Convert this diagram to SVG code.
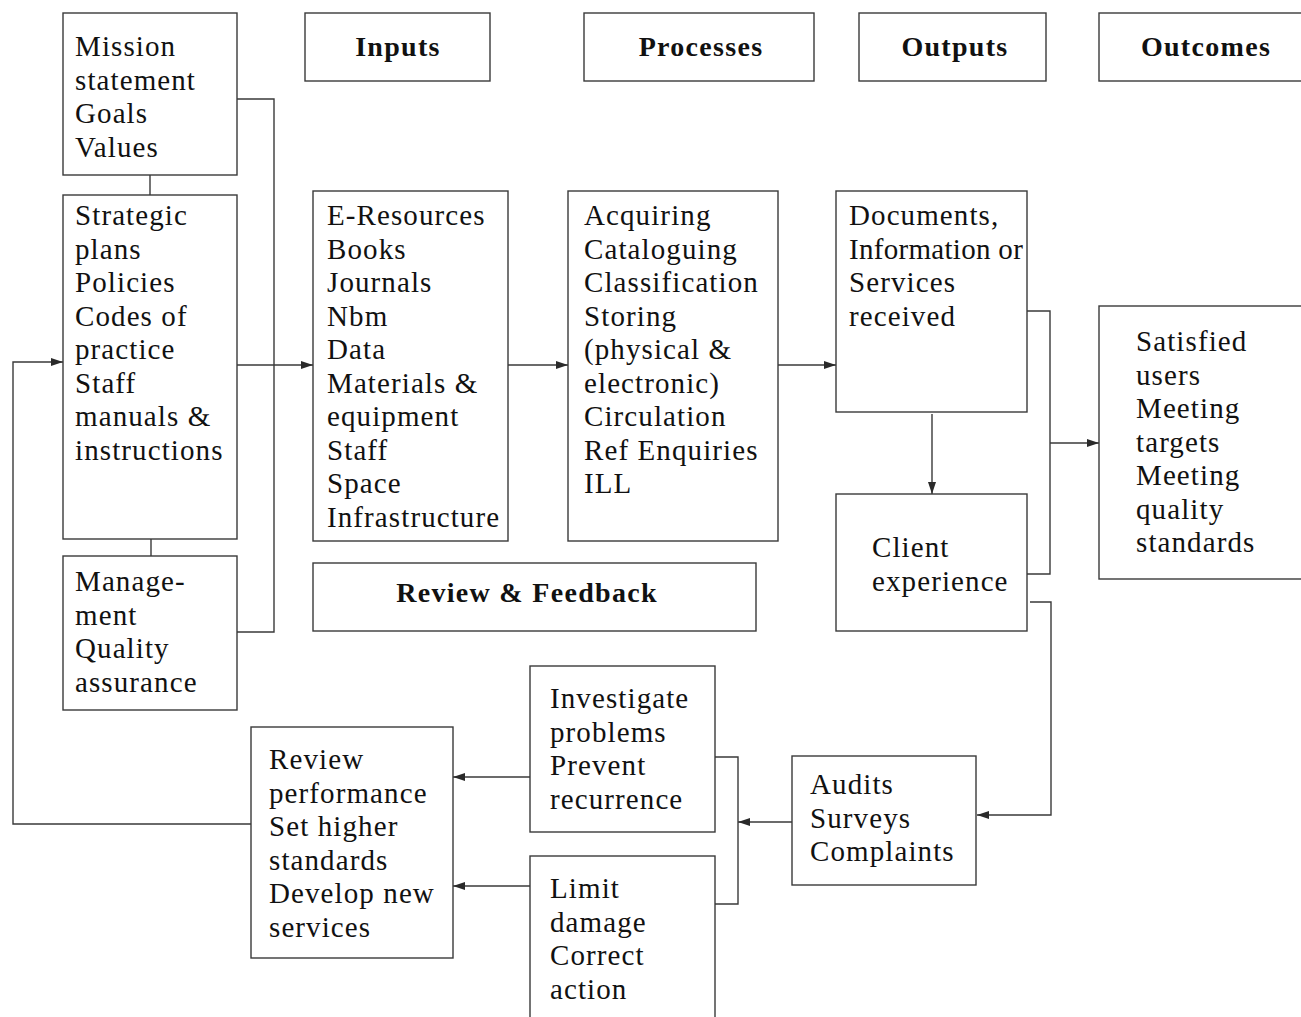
<svg xmlns="http://www.w3.org/2000/svg" width="1301" height="1017" viewBox="0 0 1301 1017">
<defs>
<marker id="arr" markerUnits="userSpaceOnUse" markerWidth="13" markerHeight="8" refX="12" refY="4" orient="auto">
<path d="M0,0 L12,4 L0,8 z" fill="#2a2a2a"/>
</marker>
<style>
rect{fill:#fff;stroke:#3a3a3a;stroke-width:1.4}
.c{fill:none;stroke:#3a3a3a;stroke-width:1.4}
.a{marker-end:url(#arr)}
text{font-family:"Liberation Serif","Times New Roman",serif;font-size:29px;letter-spacing:1.1px;fill:#111}
.h{font-weight:bold;font-size:28px;text-anchor:middle;letter-spacing:1.3px}
</style>
</defs>
<rect x="0" y="0" width="1301" height="1017" style="fill:#fff;stroke:none"/>
<g id="connectors">
<path class="c" d="M150,175 V195"/>
<path class="c" d="M151,539 V556"/>
<path class="c" d="M237,99 H274 V632 H237"/>
<path class="c a" d="M237,365 H313"/>
<path class="c a" d="M508,365 H568"/>
<path class="c a" d="M778,365 H836"/>
<path class="c a" d="M932,414 V494"/>
<path class="c" d="M1027,311 H1050 V574 H1027"/>
<path class="c a" d="M1050,443 H1099"/>
<path class="c a" d="M1030,602 H1051 V815 H977"/>
<path class="c a" d="M792,822 H738"/>
<path class="c" d="M715,757 H738 V904 H715"/>
<path class="c a" d="M530,777 H453"/>
<path class="c a" d="M530,886 H453"/>
<path class="c a" d="M251,824 H13 V362 H63"/>
</g>
<g id="mission"><rect x="63" y="13" width="174" height="162"/>
<text x="75" y="56">Mission</text><text x="75" y="89.5">statement</text><text x="75" y="123">Goals</text><text x="75" y="156.5">Values</text></g>
<g id="strategic"><rect x="63" y="195" width="174" height="344"/>
<text x="75" y="225">Strategic</text><text x="75" y="258.5">plans</text><text x="75" y="292">Policies</text><text x="75" y="325.5">Codes of</text><text x="75" y="359">practice</text><text x="75" y="392.5">Staff</text><text x="75" y="426">manuals &amp;</text><text x="75" y="459.5">instructions</text></g>
<g id="management"><rect x="63" y="556" width="174" height="154"/>
<text x="75" y="591">Manage-</text><text x="75" y="624.5">ment</text><text x="75" y="658">Quality</text><text x="75" y="691.5">assurance</text></g>
<g id="h-inputs"><rect x="305" y="13" width="185" height="68"/><text class="h" x="398" y="56">Inputs</text></g>
<g id="h-processes"><rect x="584" y="13" width="230" height="68"/><text class="h" x="701" y="56">Processes</text></g>
<g id="h-outputs"><rect x="859" y="13" width="187" height="68"/><text class="h" x="955" y="56">Outputs</text></g>
<g id="h-outcomes"><rect x="1099" y="13" width="220" height="68"/><text class="h" x="1206" y="56">Outcomes</text></g>
<g id="inputs"><rect x="313" y="191" width="195" height="350"/>
<text x="327" y="225">E-Resources</text><text x="327" y="258.5">Books</text><text x="327" y="292">Journals</text><text x="327" y="325.5">Nbm</text><text x="327" y="359">Data</text><text x="327" y="392.5">Materials &amp;</text><text x="327" y="426">equipment</text><text x="327" y="459.5">Staff</text><text x="327" y="493">Space</text><text x="327" y="526.5">Infrastructure</text></g>
<g id="processes"><rect x="568" y="191" width="210" height="350"/>
<text x="584" y="225">Acquiring</text><text x="584" y="258.5">Cataloguing</text><text x="584" y="292">Classification</text><text x="584" y="325.5">Storing</text><text x="584" y="359">(physical &amp;</text><text x="584" y="392.5">electronic)</text><text x="584" y="426">Circulation</text><text x="584" y="459.5">Ref Enquiries</text><text x="584" y="493">ILL</text></g>
<g id="documents"><rect x="836" y="191" width="191" height="221"/>
<text x="849" y="225">Documents,</text><text x="849" y="258.5" style="letter-spacing:0.3px">Information or</text><text x="849" y="292">Services</text><text x="849" y="325.5">received</text></g>
<g id="client"><rect x="836" y="494" width="191" height="137"/>
<text x="872" y="557">Client</text><text x="872" y="590.5">experience</text></g>
<g id="outcomes"><rect x="1099" y="306" width="220" height="273"/>
<text x="1136" y="351">Satisfied</text><text x="1136" y="384.5">users</text><text x="1136" y="418">Meeting</text><text x="1136" y="451.5">targets</text><text x="1136" y="485">Meeting</text><text x="1136" y="518.5">quality</text><text x="1136" y="552">standards</text></g>
<g id="review-feedback"><rect x="313" y="563" width="443" height="68"/><text class="h" x="527" y="602">Review &amp; Feedback</text></g>
<g id="investigate"><rect x="530" y="666" width="185" height="166"/>
<text x="550" y="708">Investigate</text><text x="550" y="741.5">problems</text><text x="550" y="775">Prevent</text><text x="550" y="808.5">recurrence</text></g>
<g id="limit"><rect x="530" y="856" width="185" height="180"/>
<text x="550" y="898">Limit</text><text x="550" y="931.5">damage</text><text x="550" y="965">Correct</text><text x="550" y="998.5">action</text></g>
<g id="audits"><rect x="792" y="756" width="184" height="129"/>
<text x="810" y="794">Audits</text><text x="810" y="827.5">Surveys</text><text x="810" y="861">Complaints</text></g>
<g id="review"><rect x="251" y="727" width="202" height="231"/>
<text x="269" y="769">Review</text><text x="269" y="802.5">performance</text><text x="269" y="836">Set higher</text><text x="269" y="869.5">standards</text><text x="269" y="903">Develop new</text><text x="269" y="936.5">services</text></g>
</svg>
